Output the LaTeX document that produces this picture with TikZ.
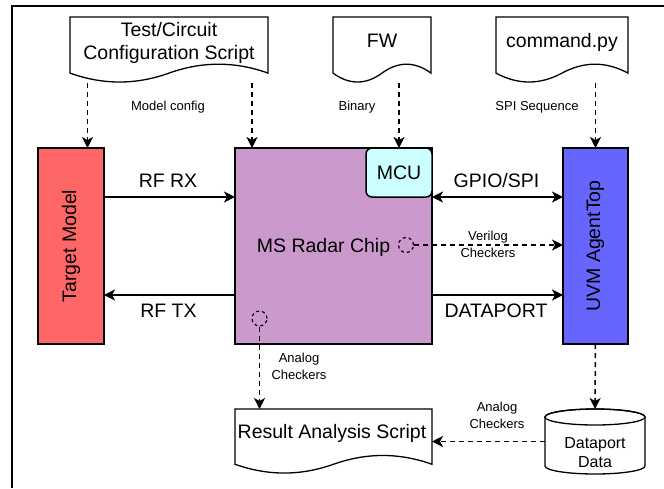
\documentclass[tikz,border=0pt]{standalone}
\usepackage{fontspec}
\setmainfont{Liberation Sans}
\usepackage{graphicx}
\usetikzlibrary{arrows.meta,calc}
\definecolor{targetred}{HTML}{FF6666}
\definecolor{chippurple}{HTML}{CC99CC}
\definecolor{mcucyan}{HTML}{CCFFFF}
\definecolor{uvmblue}{HTML}{6666FF}
\newcommand{\bigfont}{\fontsize{19.5}{23}\selectfont}
\newcommand{\smallfont}{\fontsize{13}{17}\selectfont}
\newcommand{\midfont}{\fontsize{16}{18.5}\selectfont}
% document shape: name, left x, top y, width, height
\newcommand{\docshape}[5]{%
  \pgfmathsetmacro\docL{#2}%
  \pgfmathsetmacro\docR{#2+#4}%
  \pgfmathsetmacro\docT{#3}%
  \pgfmathsetmacro\docD{0.3*#5}%
  \pgfmathsetmacro\docS{#3+#5-\docD/2}%
  \pgfmathsetmacro\docM{#2+#4/2}%
  \pgfmathsetmacro\docW{#4/6}%
  \pgfmathsetmacro\docU{\docS-0.6*\docD}%
  \pgfmathsetmacro\docV{\docS+0.6*\docD}%
  \node[minimum width=#4pt, minimum height=#5pt, inner sep=0pt, outer sep=0pt, anchor=north west] (#1) at (#2,#3) {};
  \draw[docline] (\docL,\docT) -- (\docR,\docT) -- (\docR,\docS)
     .. controls (\docR-\docW,\docU) and (\docM+\docW,\docU) .. (\docM,\docS)
     .. controls (\docM-\docW,\docV) and (\docL+\docW,\docV) .. (\docL,\docS) -- cycle;
}
\begin{document}
\begin{tikzpicture}[x=1pt,y=-1pt,
  box/.style={draw, line width=1.5pt, inner sep=0pt, outer sep=0pt, font=\bigfont},
  docline/.style={draw, line width=1.3pt, fill=white},
  arr/.style={line width=1.5pt, -{Stealth[length=11pt,width=11pt,inset=3pt]}},
  biarr/.style={line width=1.5pt, {Stealth[length=11pt,width=11pt,inset=3pt]}-{Stealth[length=11pt,width=11pt,inset=3pt]}},
  darr/.style={arr, dash pattern=on 5pt off 4pt},
  biglabel/.style={font=\bigfont, inner sep=0pt},
  smalllabel/.style={font=\smallfont, align=center, inner sep=0pt},
  checkcirc/.style={circle, draw, dash pattern=on 3pt off 3pt, line width=1.2pt, minimum size=15pt, inner sep=0pt}]
\useasboundingbox (0,0) rectangle (664,488);
% frame
\draw[line width=2pt] (664,6) -- (12,6) -- (12,488);

% documents
\docshape{test}{70}{17}{198}{66}
\node[biglabel, align=center] (testlabel) at (169,43) {Test/Circuit\\Configuration Script};
\docshape{fw}{333}{17}{98}{66}
\node[biglabel, anchor=base] (fwlabel) at (382,47) {FW};
\docshape{cmd}{496}{17}{132}{66}
\node[biglabel, anchor=base] (cmdlabel) at (562,47) {command.py};
\docshape{result}{235}{409}{197}{65}
\node[biglabel, anchor=base] (resultlabel) at (332,438.5) {Result Analysis Script};

% main boxes
\node[box, fill=targetred, minimum width=66pt, minimum height=196pt] (target) at (71,246) {\rotatebox{90}{Target Model}};
\node[box, fill=chippurple, minimum width=197pt, minimum height=196pt] (chip) at (333.5,246) {};
\node[biglabel, anchor=base] (chiplabel) at (323.5,252.5) {MS Radar Chip};
\node[box, fill=mcucyan, rounded corners=6pt, minimum width=66pt, minimum height=49pt] (mcu) at (399,172.5) {MCU};
\node[box, fill=uvmblue, minimum width=65pt, minimum height=196pt] (uvm) at (595.5,246) {\rotatebox{90}{UVM AgentTop}};

% checker circles
\node[checkcirc] (vc) at (406,245) {};
\node[checkcirc] (ac) at (259.5,318.5) {};

% dataport data cylinder
\node[minimum width=100pt, minimum height=65pt, inner sep=0pt, outer sep=0pt] (data) at (595,441.5) {};
\draw[line width=1.3pt, fill=white] (545,417) -- (545,466)
   arc[start angle=180, end angle=360, x radius=50pt, y radius=8pt] -- (645,417)
   arc[start angle=0, end angle=180, x radius=50pt, y radius=8pt] -- cycle;
\draw[line width=1.3pt] (595,417) ellipse [x radius=50pt, y radius=8pt];
\node[font=\midfont, align=center, inner sep=0pt] (datalabel) at (595,452.5) {Dataport\\Data};

% input arrows
\coordinate (tgin) at ($(target.north west)!0.75!(target.north east)$);
\coordinate (chin) at ($(chip.north west)+(17,0)$);
\draw[darr] (test.south -| tgin) -- (tgin);
\draw[darr] (test.south -| chin) -- (chin);
\draw[darr] (fw.south -| mcu.north) -- (mcu.north);
\draw[darr] (cmd.south -| uvm.north) -- (uvm.north);
\node[smalllabel, anchor=base] (lmodel) at (168,110) {Model config};
\node[smalllabel, anchor=base] (lbinary) at (357,110) {Binary};
\node[smalllabel, anchor=base] (lspi) at (537,110) {SPI Sequence};

% RF and interface arrows
\draw[arr] ($(target.north east)!0.25!(target.south east)$) -- ($(chip.north west)!0.25!(chip.south west)$);
\draw[arr] ($(chip.north west)!0.75!(chip.south west)$) -- ($(target.north east)!0.75!(target.south east)$);
\draw[biarr] ($(chip.north east)!0.25!(chip.south east)$) -- ($(uvm.north west)!0.25!(uvm.south west)$);
\draw[arr] ($(chip.north east)!0.75!(chip.south east)$) -- ($(uvm.north west)!0.75!(uvm.south west)$);
\draw[darr] (vc.east) -- (vc.east -| uvm.west);
\node[biglabel, anchor=base] (lrfrx) at (168,187) {RF RX};
\node[biglabel, anchor=base] (lrftx) at (168.5,317) {RF TX};
\node[biglabel, anchor=base] (lgpio) at (496.5,187) {GPIO/SPI};
\node[biglabel, anchor=base] (ldata) at (496,317) {DATAPORT};
\node[smalllabel] (lverilog) at (488,244.5) {Verilog\\Checkers};

% output arrows
\draw[darr] (ac.south) -- (ac.south |- result.north);
\node[smalllabel] (lanalog1) at (299,366) {Analog\\Checkers};
\draw[darr] (uvm.south) -- (data.north);
\draw[darr] (data.west) -- (result.east);
\node[smalllabel] (lanalog2) at (497,415) {Analog\\Checkers};
\end{tikzpicture}
\end{document}
